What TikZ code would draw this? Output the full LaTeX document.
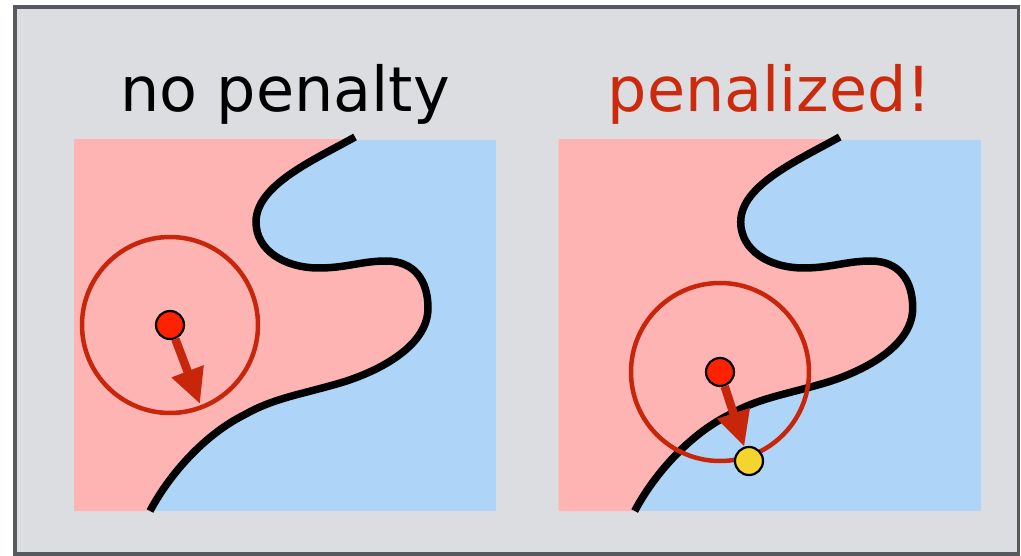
\documentclass[tikz,border=0pt]{standalone}
\usepackage{fontspec}
\setsansfont{DejaVu Sans}
\usepackage{xcolor}
\usepackage{tikz}
\usetikzlibrary{arrows.meta, positioning}

\definecolor{framegray}{HTML}{DCDDE0}
\definecolor{edgegray}{HTML}{56595D}
\definecolor{classa}{HTML}{FFB4B4}
\definecolor{classb}{HTML}{AED4F8}
\definecolor{ringred}{HTML}{C8260A}
\definecolor{titlered}{HTML}{CC2A0C}
\definecolor{dotred}{HTML}{FF2200}
\definecolor{dotyellow}{HTML}{F5D42E}

% decision boundary, relative to the top left corner of a panel
\tikzset{boundary line/.style={insert path={-- (281,-3)
    .. controls (240,20) and (182,45) .. (182,82)
    .. controls (182,110) and (210,128) .. (245,128)
    .. controls (272,128) and (288,121) .. (312,121)
    .. controls (340,121) and (354,140) .. (354,168)
    .. controls (354,208) and (300,233) .. (266,243)
    .. controls (225,255) and (200,258) .. (170,275)
    .. controls (130,295) and (95,335) .. (76,371)}}}

\begin{document}
\begin{tikzpicture}[x=1pt, y=-1pt, font=\sffamily]
    % Styles
    \tikzstyle{title} = [anchor=base, font=\sffamily\fontsize{62}{70}\selectfont]
    \tikzstyle{boundary} = [draw, black, line width=7.5pt, line cap=butt]
    \tikzstyle{ring} = [circle, draw=ringred, line width=4.5pt, inner sep=0pt]
    \tikzstyle{sample} = [circle, draw=black, line width=2.2pt, fill=dotred, minimum size=28pt, inner sep=0pt]
    \tikzstyle{advsample} = [sample, fill=dotyellow]
    \tikzstyle{vec} = [draw=ringred, line width=8.5pt, -{Triangle[width=32pt, length=35pt]}]

    \useasboundingbox (0,0) rectangle (1021,556);

    % Frame
    \draw[edgegray, fill=framegray, line width=3.5pt] (14.8,7) rectangle (1018.5,554);

    % Left panel
    \begin{scope}[shift={(74,140)}]
        \fill[classb] (0,0) rectangle (422,371);
        \begin{scope}
            \clip (0,0) rectangle (422,371);
            \fill[classa] (0,-5) [boundary line] -- (0,371) -- cycle;
        \end{scope}
        \draw[boundary] (281,-3) [boundary line];
        \node[title] (nopen) at (211,-28) {no penalty};
        \node[ring, minimum size=176pt] (ball1) at (96,185) {};
        \node[sample] (x1) at (96,185) {};
        \coordinate (tip1) at (126,264);
        \draw[vec] (x1) -- (tip1);
    \end{scope}

    % Right panel
    \begin{scope}[shift={(558.7,140)}]
        \fill[classb] (0,0) rectangle (422,371);
        \begin{scope}
            \clip (0,0) rectangle (422,371);
            \fill[classa] (0,-5) [boundary line] -- (0,371) -- cycle;
        \end{scope}
        \draw[boundary] (281,-3) [boundary line];
        \node[title, titlered] (pen) at (211,-28) {penalized!};
        \node[ring, minimum size=178pt] (ball2) at (161.3,232) {};
        \node[sample] (x2) at (161.3,232) {};
        \node[advsample] (adv) at (190.3,321) {};
        \draw[vec] (x2) -- (adv);
    \end{scope}
\end{tikzpicture}
\end{document}
